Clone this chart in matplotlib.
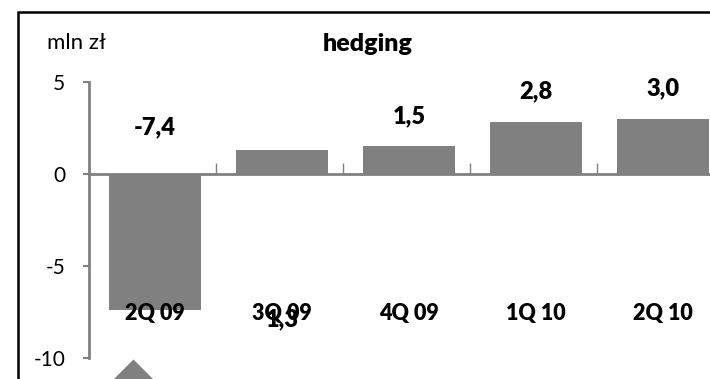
import matplotlib.pyplot as plt
from matplotlib.patches import Rectangle
import numpy as np

quarters = ['2Q 09', '3Q 09', '4Q 09', '1Q 10', '2Q 10']
values = [-7.4, 1.3, 1.5, 2.8, 3.0]
value_labels = ['-7,4', '1,3', '1,5', '2,8', '3,0']
label_y = [2.55, -7.9, 3.15, 4.5, 4.65]
marker_x = [-0.15]
marker_y = [-12.1]

plt.rcParams['font.family'] = ['Lato', 'DejaVu Sans']
grey = '#808080'

fig = plt.figure(figsize=(7.1, 3.79), dpi=100)
ax = fig.add_axes([89 / 710, 1 - 358 / 379, 635 / 710, (358 - 82) / 379])

x = np.arange(len(quarters))
ax.bar(x + 0.02, values, width=0.72, color=grey, zorder=2)

ax.set_xlim(-0.5, 4.5)
ax.set_ylim(-10, 5)
ax.set_yticks([-10, -5, 0, 5])
ax.set_yticklabels(['-10', '-5', '0', '5'], fontsize=15)
ax.tick_params(axis='y', direction='out', length=4, width=1.5, color=grey, pad=13)

ax.spines['top'].set_visible(False)
ax.spines['right'].set_visible(False)
ax.spines['left'].set_color(grey)
ax.spines['left'].set_linewidth(2)
ax.spines['bottom'].set_position(('data', 0))
ax.spines['bottom'].set_color(grey)
ax.spines['bottom'].set_linewidth(2)
ax.set_xticks(np.arange(0.5, 4.5, 1))
ax.set_xticklabels([])
ax.tick_params(axis='x', direction='in', length=8, width=1, color=grey)

for xi, q in zip(x, quarters):
    ax.text(xi + 0.02, -7.6, q, ha='center', va='center', fontsize=15.5,
            fontweight='heavy')
for xi, lab, ly in zip(x, value_labels, label_y):
    ax.text(xi + 0.02, ly, lab, ha='center', va='center', fontsize=17,
            fontweight='heavy')

ax.scatter(marker_x, marker_y, marker=[(0, 1), (-1, 0), (1, 0), (0, 1)],
           s=3000, color=grey, clip_on=False, zorder=3, linewidths=0)

fig.text(47 / 710, 1 - 43 / 379, 'mln zł', ha='left', va='center', fontsize=16)
fig.text(368 / 710, 1 - 44 / 379, 'hedging', ha='center', va='center',
         fontsize=18, fontweight='heavy')

fig.patches.append(Rectangle((18 / 710, -0.1), 1.1, 1 - 12 / 379 + 0.1,
                             transform=fig.transFigure, fill=False,
                             edgecolor='black', linewidth=1.8))

plt.savefig('out.png', dpi=100)
